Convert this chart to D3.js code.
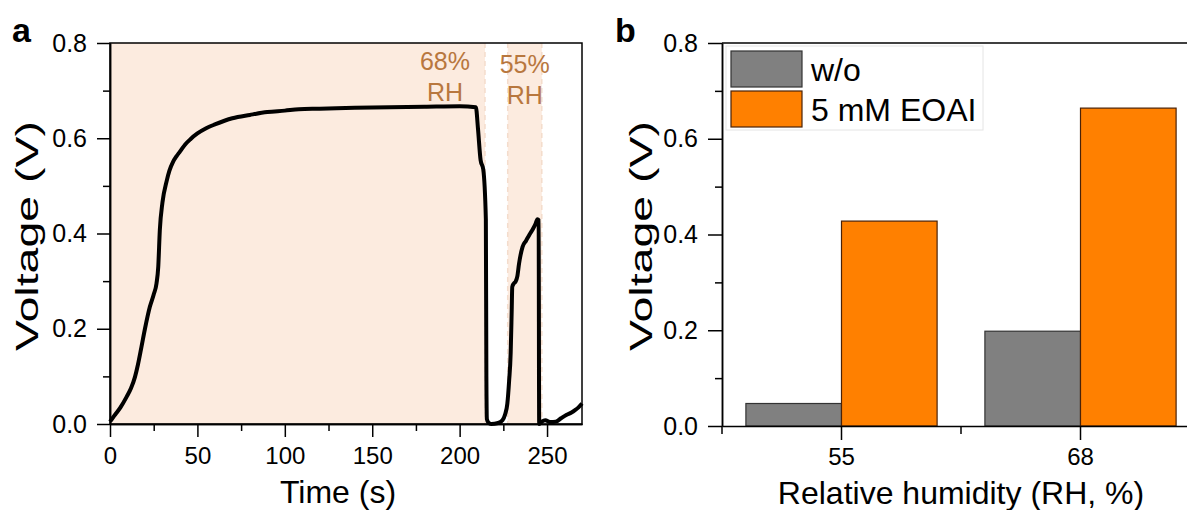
<!DOCTYPE html>
<html>
<head>
<meta charset="utf-8">
<script src="https://cdn.jsdelivr.net/npm/d3@7"></script>
<style>
  body { margin: 0; background: #fff; }
  svg text { font-family: "Liberation Sans", Arial, sans-serif; fill: #000; }
  .axis path, .axis line { stroke: #000; stroke-width: 1.5; }
  .axis text { font-size: 25px; }
  .xaxis text { font-size: 24px; }
</style>
</head>
<body>
<svg id="chart" width="1187" height="510"></svg>
<script>
// panel a : voltage vs time
const timeS = [0, 1, 3, 6, 9.5, 12, 14.3, 16, 18, 20, 22.8, 25, 26.6, 27.6, 28.5, 30, 32.4, 34, 36, 38, 40, 43, 46, 50, 55, 60, 70, 80, 90, 100, 108, 120, 140, 160, 180, 200, 209.3, 210.5, 212, 213.5, 215, 215.3, 215.6, 216.5, 218, 222, 224.5, 226, 227.3, 228.3, 229.2, 229.8, 230.1, 231, 232, 233, 234, 236, 238, 240, 242, 243.5, 244.5, 245.2, 245.5, 247, 249, 252, 255, 258, 261, 264, 266, 268, 270];
const voltageV = [0.005, 0.01, 0.02, 0.035, 0.057, 0.075, 0.099, 0.125, 0.162, 0.2, 0.246, 0.272, 0.295, 0.33, 0.407, 0.465, 0.51, 0.532, 0.55, 0.562, 0.572, 0.587, 0.598, 0.61, 0.621, 0.629, 0.642, 0.649, 0.655, 0.658, 0.661, 0.662, 0.664, 0.665, 0.666, 0.667, 0.665, 0.62, 0.554, 0.535, 0.43, 0.1, 0.01, 0.003, 0.0, 0.002, 0.008, 0.02, 0.043, 0.09, 0.149, 0.24, 0.288, 0.295, 0.299, 0.31, 0.337, 0.372, 0.385, 0.398, 0.41, 0.421, 0.43, 0.428, 0.0, 0.005, 0.008, 0.004, 0.005, 0.012, 0.019, 0.024, 0.029, 0.035, 0.043];
const rhLabels = ['68%', '55%'];
const rhStart = [0, 227.5];
const rhEnd = [214.5, 247];
const timeTicks = [0, 50, 100, 150, 200, 250];
const voltTicks = [0, 0.2, 0.4, 0.6, 0.8];

// panel b : bars
const humidity = ['55', '68'];
const seriesNames = ['w/o', '5 mM EOAI'];
const woVoltage = [0.047, 0.198];
const eoaiVoltage = [0.428, 0.664];
const barColors = ['#808080', '#ff8000'];
const barStrokes = ['#333333', '#4a2208'];

const svg = d3.select('#chart');
const yStretch = 1.5; // the y titles are drawn stretched along their length

// ---------- panel a ----------
const xa = d3.scaleLinear().domain([0, 270]).range([110, 582]);
const ya = d3.scaleLinear().domain([0, 0.8]).range([424, 43]);
const ga = svg.append('g');

ga.selectAll('rect.rh')
  .data(rhLabels)
  .enter().append('rect')
  .attr('class', 'rh')
  .attr('x', (d, i) => xa(rhStart[i]))
  .attr('width', (d, i) => xa(rhEnd[i]) - xa(rhStart[i]))
  .attr('y', ya(0.8))
  .attr('height', ya(0) - ya(0.8))
  .style('fill', '#fcebdf');

// faint dashed borders of the shaded zones
ga.selectAll('line.rhb')
  .data([rhEnd[0], rhStart[1], rhEnd[1]])
  .enter().append('line')
  .attr('x1', d => xa(d)).attr('x2', d => xa(d))
  .attr('y1', ya(0.8)).attr('y2', ya(0))
  .style('stroke', '#f4dccc')
  .style('stroke-width', 1.5)
  .style('stroke-dasharray', '5,4');

rhLabels.forEach((lab, i) => {
  const cx = i === 0 ? 445 : xa((rhStart[i] + rhEnd[i]) / 2);
  const t = ga.append('text')
    .attr('text-anchor', 'middle')
    .style('font-size', '25px')
    .style('fill', '#b8773e');
  t.append('tspan').attr('x', cx).attr('y', i === 0 ? 70 : 73).text(lab);
  t.append('tspan').attr('x', cx).attr('y', i === 0 ? 101 : 104).text('RH');
});

// curve
ga.append('path')
  .datum(timeS.map((t, i) => [t, voltageV[i]]))
  .attr('d', d3.line().x(d => xa(d[0])).y(d => ya(d[1])).curve(d3.curveMonotoneX))
  .style('fill', 'none')
  .style('stroke', '#000')
  .style('stroke-width', 4)
  .style('stroke-linejoin', 'round');

// frame
ga.append('rect')
  .attr('x', 110).attr('y', 43)
  .attr('width', 582 - 110).attr('height', 424 - 43)
  .style('fill', 'none').style('stroke', '#000').style('stroke-width', 1.5);

ga.append('g').attr('class', 'axis')
  .attr('transform', 'translate(110,0)')
  .call(d3.axisLeft(ya).tickValues(voltTicks).tickFormat(d3.format('.1f')).tickSize(13).tickPadding(10).tickSizeOuter(0));
ga.append('g').attr('class', 'axis')
  .attr('transform', 'translate(110,0)')
  .call(d3.axisLeft(ya).tickValues([0.1, 0.3, 0.5, 0.7]).tickFormat('').tickSize(7).tickSizeOuter(0));
ga.append('g').attr('class', 'axis xaxis')
  .attr('transform', 'translate(0,424)')
  .call(d3.axisBottom(xa).tickValues(timeTicks).tickSize(13).tickPadding(10).tickSizeOuter(0));
ga.append('g').attr('class', 'axis')
  .attr('transform', 'translate(0,424)')
  .call(d3.axisBottom(xa).tickValues([25, 75, 125, 175, 225]).tickFormat('').tickSize(7).tickSizeOuter(0));

ga.append('text').attr('x', 338).attr('y', 503)
  .attr('text-anchor', 'middle').style('font-size', '32px').text('Time (s)');
ga.append('text').attr('transform', `translate(38,236) rotate(-90) scale(${yStretch},1)`)
  .attr('text-anchor', 'middle').style('font-size', '31px').text('Voltage (V)');
ga.append('text').attr('x', 12).attr('y', 42)
  .style('font-size', '34px').style('font-weight', 'bold').text('a');

// ---------- panel b ----------
const xb = d3.scaleBand().domain(humidity).range([722, 1200]);
const xs = d3.scaleBand().domain(seriesNames).range([0.1 * xb.bandwidth(), 0.9 * xb.bandwidth()]);
const yb = d3.scaleLinear().domain([0, 0.8]).range([426, 43]);
const gb = svg.append('g');

const groups = gb.selectAll('g.grp')
  .data(humidity)
  .enter().append('g')
  .attr('transform', d => `translate(${xb(d)},0)`);

groups.selectAll('rect')
  .data((d, i) => [woVoltage[i], eoaiVoltage[i]])
  .enter().append('rect')
  .attr('x', (d, j) => xs(seriesNames[j]))
  .attr('width', xs.bandwidth())
  .attr('y', d => yb(d))
  .attr('height', d => yb(0) - yb(d))
  .style('fill', (d, j) => barColors[j])
  .style('stroke', (d, j) => barStrokes[j])
  .style('stroke-width', 1.2);

gb.append('g').attr('class', 'axis')
  .attr('transform', 'translate(722,0)')
  .call(d3.axisLeft(yb).tickValues(voltTicks).tickFormat(d3.format('.1f')).tickSize(14).tickPadding(10).tickSizeOuter(0));
gb.append('g').attr('class', 'axis')
  .attr('transform', 'translate(722,0)')
  .call(d3.axisLeft(yb).tickValues([0.1, 0.3, 0.5, 0.7]).tickFormat('').tickSize(7).tickSizeOuter(0));
gb.append('g').attr('class', 'axis xaxis')
  .attr('transform', 'translate(0,426)')
  .call(d3.axisBottom(xb).tickSize(14).tickPadding(8).tickSizeOuter(0));
// minor ticks at category borders
gb.selectAll('line.minor')
  .data([xb(humidity[0]), xb(humidity[1]), xb(humidity[1]) + xb.bandwidth()])
  .enter().append('line')
  .attr('x1', d => d).attr('x2', d => d)
  .attr('y1', 426).attr('y2', 434)
  .style('stroke', '#000').style('stroke-width', 1.5);
gb.append('line')
  .attr('x1', 722).attr('x2', 1200).attr('y1', 43).attr('y2', 43)
  .style('stroke', '#000').style('stroke-width', 1.5);

// legend
const lg = gb.append('g');
lg.append('rect').attr('x', 726).attr('y', 46).attr('width', 257).attr('height', 84)
  .style('fill', '#fff').style('stroke', '#e4e4e4').style('stroke-width', 1);
seriesNames.forEach((s, i) => {
  lg.append('rect').attr('x', 731).attr('y', 51 + i * 40).attr('width', 71).attr('height', 36)
    .style('fill', barColors[i]).style('stroke', barStrokes[i]).style('stroke-width', 1.2);
  lg.append('text').attr('x', 811).attr('y', 69 + i * 40).attr('dy', '0.36em')
    .style('font-size', '32px').text(s);
});

gb.append('text').attr('x', 961).attr('y', 504)
  .attr('text-anchor', 'middle').style('font-size', '32px').text('Relative humidity (RH, %)');
gb.append('text').attr('transform', `translate(652,236) rotate(-90) scale(${yStretch},1)`)
  .attr('text-anchor', 'middle').style('font-size', '31px').text('Voltage (V)');
gb.append('text').attr('x', 615).attr('y', 42)
  .style('font-size', '34px').style('font-weight', 'bold').text('b');
</script>
</body>
</html>
